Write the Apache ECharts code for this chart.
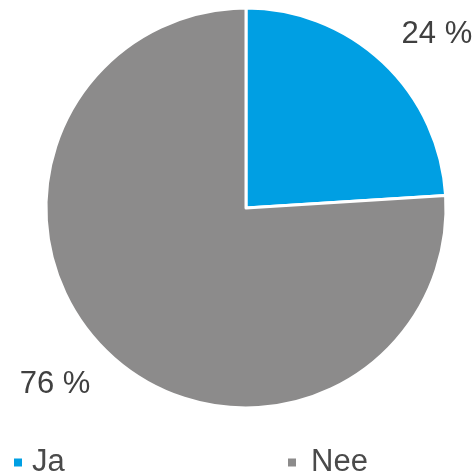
<!DOCTYPE html>
<html><head><meta charset="utf-8">
<script src="https://cdn.jsdelivr.net/npm/echarts@6/dist/echarts.min.js"></script>
<style>html,body{margin:0;padding:0;background:#fff}#c{width:475px;height:476px}</style>
</head><body><div id="c"></div>
<script>
const categories = ['Ja', 'Nee'];
const values = [24, 76];
const colors = ['#009FE3', '#8C8B8B'];

const chart = echarts.init(document.getElementById('c'), null, {renderer: 'canvas'});
function legendFor(name, left, gap) {
  return {
    orient: 'horizontal', top: 447, left: left, itemWidth: 8, itemHeight: 8, icon: 'rect', padding: 0,
    itemStyle: {borderWidth: 0},
    textStyle: {fontFamily: 'Liberation Sans, Arial, sans-serif', fontSize: 31, color: '#4a4a4a', padding: [0, 0, 0, gap]},
    data: [name]
  };
}
chart.setOption({
  animation: false,
  color: colors,
  legend: [legendFor(categories[0], 14, 5), legendFor(categories[1], 288, 10)],
  series: [{
    type: 'pie',
    center: [246, 208],
    radius: [0, 200],
    startAngle: 90,
    clockwise: true,
    avoidLabelOverlap: false,
    itemStyle: {borderColor: '#fff', borderWidth: 3},
    label: {
      show: true, position: 'outside',
      formatter: p => p.value + ' %',
      fontFamily: 'Liberation Sans, Arial, sans-serif', fontSize: 31, color: '#404040'
    },
    labelLine: {show: false, length: 39, length2: 0},
    labelLayout: p => (p.dataIndex === 0 ? {dx: -13, dy: 1} : {dx: 13, dy: 2}),
    emphasis: {disabled: true},
    data: categories.map((c, i) => ({name: c, value: values[i]}))
  }]
});
</script></body></html>
